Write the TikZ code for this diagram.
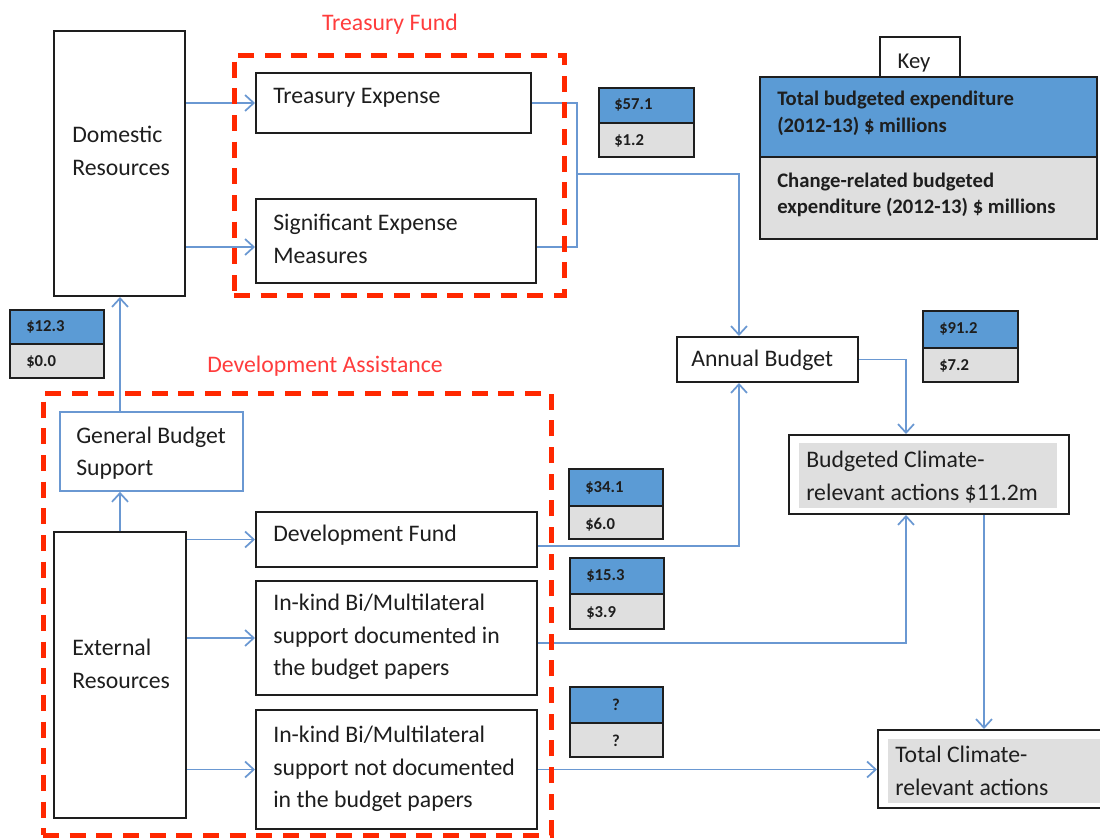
\documentclass[tikz,border=0pt]{standalone}
\usepackage{fontspec}
\setmainfont{Carlito}
\usetikzlibrary{arrows.meta,fit,calc}
\definecolor{conn}{RGB}{106,152,210}
\definecolor{valblue}{RGB}{91,155,213}
\definecolor{valgray}{RGB}{223,223,223}
\definecolor{redbox}{RGB}{255,40,0}
\definecolor{redtxt}{RGB}{255,60,60}
\definecolor{ink}{RGB}{30,30,30}
\begin{document}
\begin{tikzpicture}[x=0.75pt,y=-0.75pt,
  box/.style={draw=ink, line width=1.5pt, inner sep=0pt, fill=white},
  gbox/.style={draw=conn, line width=1.3pt, inner sep=0pt, fill=white},
  grayin/.style={fill=valgray, draw=none, inner sep=0pt},
  redgroup/.style={draw=redbox, line width=3.75pt, dash pattern=on 12pt off 8pt, inner sep=0pt},
  txt/.style={anchor=west, align=left, inner sep=0pt, text=ink, font=\fontsize{17.8}{24.5}\selectfont},
  redlbl/.style={inner sep=0pt, text=redtxt, font=\fontsize{17.8}{24}\selectfont},
  keytxt/.style={anchor=west, align=left, inner sep=0pt, text=ink, font=\fontsize{15.5}{20}\selectfont\bfseries},
  valtxt/.style={anchor=west, inner sep=0pt, text=ink, font=\fontsize{12.5}{15}\selectfont\bfseries},
  vtop/.style={draw=ink, line width=1.5pt, fill=valblue, inner sep=0pt},
  vbot/.style={draw=ink, line width=1.5pt, fill=valgray, inner sep=0pt},
  arr/.style={draw=conn, line width=1.3pt, -{Straight Barb[length=6.5pt,width=12pt]}},
  ln/.style={draw=conn, line width=1.3pt},
]
\path[use as bounding box, clip] (0,0) rectangle (1100,839);

% ---- main boxes
\node[box, fit={(54,31)(185,296)}] (dom) {};
\node[box, fit={(256,73)(531,133)}] (te) {};
\node[box, fit={(256,199)(536,283)}] (sig) {};
\node[gbox, fit={(60,412)(243,491)}] (gbs) {};
\node[box, fit={(54,532)(186,818)}] (ext) {};
\node[box, fit={(256,512)(537,567)}] (df) {};
\node[box, fit={(256,581)(537,695)}] (ik1) {};
\node[box, fit={(256,710)(537,829)}] (ik2) {};
\node[box, fit={(677,337)(858,382)}] (ab) {};
\node[box, fit={(789,435)(1069,514)}] (bc) {};
\node[grayin, fit={(799,443)(1057,508)}] (bcin) {};
\node[box, fit={(878,730)(1112,808)}] (tc) {};
\node[grayin, fit={(888,739)(1112,803)}] (tcin) {};

% ---- key
\node[box, fit={(880,37)(960,77)}] (keytab) {};
\node[inner sep=0pt, text=ink, font=\fontsize{17}{20}\selectfont] (keyT) at (914,63) {Key};
\node[vtop, fit={(760,77)(1097,157)}] (k1) {};
\node[vbot, fit={(760,157)(1097,239)}] (k2) {};
\node[keytxt] (k1T) at (777,113.5) {Total budgeted expenditure\\(2012-13) \$ millions};
\node[keytxt] (k2T) at (777,195) {Change-related budgeted\\expenditure (2012-13) \$ millions};

% ---- value boxes
\node[vtop, fit={(599,88)(694,123)}] (v1a) {};
\node[vbot, fit={(599,123)(694,157)}] (v1b) {};
\node[valtxt] (v1aT) at (614,105) {\$57.1};
\node[valtxt] (v1bT) at (614,141) {\$1.2};

\node[vtop, fit={(10,310)(104,344)}] (v2a) {};
\node[vbot, fit={(10,344)(104,378)}] (v2b) {};
\node[valtxt] (v2aT) at (26,327) {\$12.3};
\node[valtxt] (v2bT) at (26,362) {\$0.0};

\node[vtop, fit={(923,311)(1018,348)}] (v3a) {};
\node[vbot, fit={(923,348)(1018,382)}] (v3b) {};
\node[valtxt] (v3aT) at (939,329) {\$91.2};
\node[valtxt] (v3bT) at (939,366) {\$7.2};

\node[vtop, fit={(569,469)(663,506)}] (v4a) {};
\node[vbot, fit={(569,506)(663,539)}] (v4b) {};
\node[valtxt] (v4aT) at (585,488) {\$34.1};
\node[valtxt] (v4bT) at (585,525) {\$6.0};

\node[vtop, fit={(570,558)(664,594)}] (v5a) {};
\node[vbot, fit={(570,594)(664,629)}] (v5b) {};
\node[valtxt] (v5aT) at (586,576) {\$15.3};
\node[valtxt] (v5bT) at (586,613) {\$3.9};

\node[vtop, fit={(570,687)(663,723)}] (v6a) {};
\node[vbot, fit={(570,723)(663,757)}] (v6b) {};
\node[valtxt, anchor=center] (v6aT) at (616,705) {?};
\node[valtxt, anchor=center] (v6bT) at (616,741) {?};

% ---- texts
\node[txt] (domT) at (72,151) {Domestic\\Resources};
\node[txt] (teT) at (273,98) {Treasury Expense};
\node[txt] (sigT) at (273,239) {Significant Expense\\Measures};
\node[txt] (gbsT) at (76,453) {General Budget\\Support};
\node[txt] (extT) at (72,664) {External\\Resources};
\node[txt] (dfT) at (273,535) {Development Fund};
\node[txt] (ik1T) at (273,637) {In-kind Bi/Multilateral\\support documented in\\the budget papers};
\node[txt] (ik2T) at (273,769) {In-kind Bi/Multilateral\\support not documented\\in the budget papers};
\node[txt] (abT) at (691,360) {Annual Budget};
\node[txt] (bcT) at (806,477) {Budgeted Climate-\\relevant actions \$11.2m};
\node[txt] (tcT) at (895,771) {Total Climate-\\relevant actions};

% ---- connectors
\coordinate (jt) at (577,174);
\coordinate (sigin) at ([yshift=-4.5pt]sig.west);
\coordinate (sigout) at ([yshift=-4.5pt]sig.east);
\coordinate (dfout) at ([yshift=-4.8pt]df.east);
\coordinate (ik1out) at ([yshift=-3.75pt]ik1.east);
\coordinate (abtop) at ([xshift=47.25pt]ab.north west);
\coordinate (abbot) at ([xshift=47.25pt]ab.south west);
\coordinate (bctop) at ([xshift=88.5pt]bc.north west);
\coordinate (bcbot) at ([xshift=88.5pt]bc.south west);
\coordinate (bcout) at ([xshift=147pt]bc.south west);

\draw[arr] (dom.east |- te.west) -- (te.west);
\draw[arr] (dom.east |- sigin) -- (sigin);
\draw[ln] (te.east) -| (jt);
\draw[ln] (sigout) -| (jt);
\draw[arr] (jt) -| (abtop);
\draw[arr] (dfout) -| (abbot);
\draw[arr] (ab.east) -| (bctop);
\draw[arr] (ik1out) -| (bcbot);
\draw[arr] (ik2.east) -- (ik2.east -| tc.west);
\draw[arr] (bcout) -- (bcout |- tc.north);
\draw[arr] (ext.north) -- (ext.north |- gbs.south);
\draw[arr] (ext.north |- gbs.north) -- (ext.north |- dom.south);
\draw[arr] (ext.east |- df.west) -- (df.west);
\draw[arr] (ext.east |- ik1.west) -- (ik1.west);
\draw[arr] (ext.east |- ik2.west) -- (ik2.west);

% ---- red groups
\node[redgroup, fit={(234,55)(564,295)}] (tf) {};
\node[redlbl] (tfL) at (390,24) {Treasury Fund};
\node[redgroup, fit={(43,393)(551,835)}] (da) {};
\node[redlbl] (daL) at (325,366) {Development Assistance};
\end{tikzpicture}
\end{document}
